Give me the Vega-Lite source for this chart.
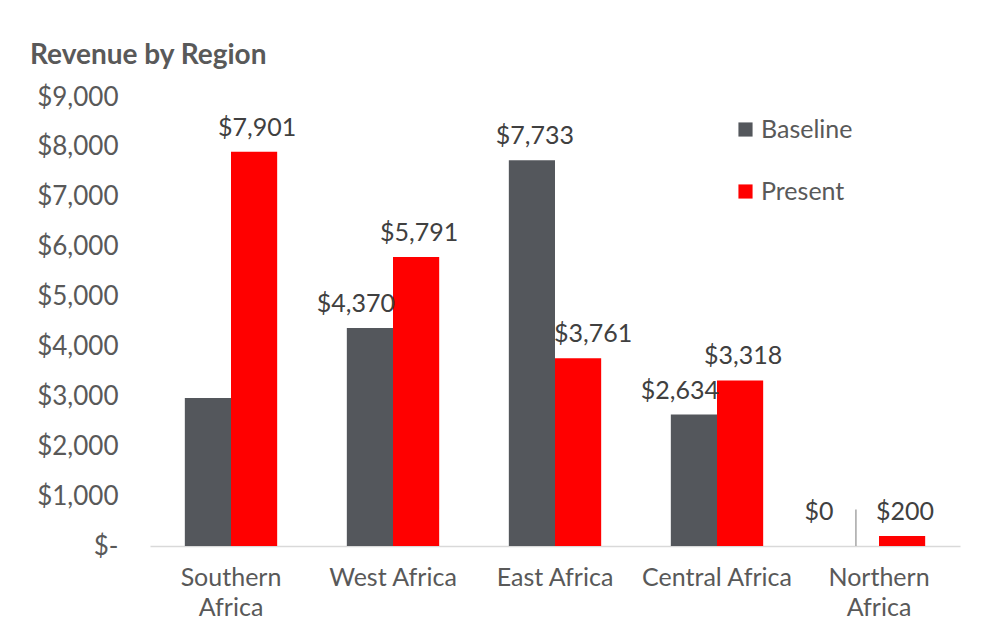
{
  "$schema": "https://vega.github.io/schema/vega-lite/v6.json",
  "autosize": {"type": "none"},
  "padding": {"left": 150, "top": 97, "right": 24, "bottom": 85},
  "width": 810,
  "height": 449,
  "background": "white",
  "config": {
    "font": "Lato",
    "view": {"stroke": null}
  },
  "title": {
    "text": "Revenue by Region",
    "anchor": "start",
    "frame": "group",
    "dx": -120,
    "fontSize": 28,
    "fontWeight": "bold",
    "color": "#595959",
    "offset": 14
  },
  "data": {
    "values": [
      {"Region": "Southern Africa", "Series": "Baseline", "Revenue": 2966, "Label": ""},
      {"Region": "Southern Africa", "Series": "Present", "Revenue": 7901, "Label": "$7,901"},
      {"Region": "West Africa", "Series": "Baseline", "Revenue": 4370, "Label": "$4,370"},
      {"Region": "West Africa", "Series": "Present", "Revenue": 5791, "Label": "$5,791"},
      {"Region": "East Africa", "Series": "Baseline", "Revenue": 7733, "Label": "$7,733"},
      {"Region": "East Africa", "Series": "Present", "Revenue": 3761, "Label": "$3,761"},
      {"Region": "Central Africa", "Series": "Baseline", "Revenue": 2634, "Label": "$2,634"},
      {"Region": "Central Africa", "Series": "Present", "Revenue": 3318, "Label": "$3,318"},
      {"Region": "Northern Africa", "Series": "Baseline", "Revenue": 0, "Label": "$0"},
      {"Region": "Northern Africa", "Series": "Present", "Revenue": 200, "Label": "$200"}
    ]
  },
  "encoding": {
    "x": {
      "field": "Region",
      "type": "nominal",
      "sort": null,
      "scale": {"paddingInner": 0.43, "paddingOuter": 0.215},
      "axis": {
        "title": null,
        "labelAngle": 0,
        "ticks": false,
        "domainColor": "#D9D9D9",
        "domainWidth": 1.5,
        "labelFontSize": 25,
        "labelColor": "#595959",
        "labelPadding": 19,
        "labelLineHeight": 30,
        "labelExpr": "datum.label == 'Southern Africa' ? ['Southern', 'Africa'] : datum.label == 'Northern Africa' ? ['Northern', 'Africa'] : datum.label"
      }
    },
    "xOffset": {"field": "Series", "type": "nominal", "sort": ["Baseline", "Present"]}
  },
  "layer": [
    {
      "mark": {"type": "bar"},
      "encoding": {
        "y": {
          "field": "Revenue",
          "type": "quantitative",
          "scale": {"domain": [0, 9000], "nice": false},
          "axis": {
            "title": null,
            "values": [0, 1000, 2000, 3000, 4000, 5000, 6000, 7000, 8000, 9000],
            "grid": false,
            "ticks": false,
            "domain": false,
            "labelFontSize": 26,
            "labelColor": "#595959",
            "labelPadding": 32,
            "labelExpr": "datum.value == 0 ? '$-   ' : '$' + format(datum.value, ',')"
          }
        },
        "color": {
          "field": "Series",
          "type": "nominal",
          "sort": ["Baseline", "Present"],
          "scale": {"domain": ["Baseline", "Present"], "range": ["#54575C", "#FF0000"]},
          "legend": {
            "title": null,
            "orient": "none",
            "legendX": 583,
            "legendY": 20,
            "symbolType": "square",
            "symbolSize": 200,
            "symbolStrokeWidth": 0,
            "labelFontSize": 25,
            "labelColor": "#595959",
            "rowPadding": 36,
            "labelOffset": 3
          }
        }
      }
    },
    {
      "transform": [{"filter": "datum.Revenue > 0 && datum.Label != '$4,370' && datum.Label != '$2,634' && datum.Label != '$3,761'"}],
      "mark": {"type": "text", "baseline": "bottom", "dy": -11, "dx": 3, "fontSize": 25, "color": "#404040"},
      "encoding": {
        "y": {"field": "Revenue", "type": "quantitative"},
        "text": {"field": "Label"}
      }
    },
    {
      "transform": [{"filter": "datum.Label == '$4,370' || datum.Label == '$2,634'"}],
      "mark": {"type": "text", "baseline": "bottom", "dy": -11, "dx": -14, "fontSize": 25, "color": "#404040"},
      "encoding": {
        "y": {"field": "Revenue", "type": "quantitative"},
        "text": {"field": "Label"}
      }
    },
    {
      "transform": [{"filter": "datum.Label == '$3,761'"}],
      "mark": {"type": "text", "baseline": "bottom", "dy": -11, "dx": 15, "fontSize": 25, "color": "#404040"},
      "encoding": {
        "y": {"field": "Revenue", "type": "quantitative"},
        "text": {"field": "Label"}
      }
    },
    {
      "transform": [{"filter": "datum.Revenue == 0"}],
      "mark": {"type": "text", "baseline": "bottom", "dy": -21, "dx": -37, "fontSize": 25, "color": "#404040"},
      "encoding": {
        "y": {"field": "Revenue", "type": "quantitative"},
        "text": {"field": "Label"}
      }
    },
    {
      "transform": [{"filter": "datum.Revenue == 0"}],
      "mark": {"type": "rule", "color": "#A6A6A6", "strokeWidth": 1.5},
      "encoding": {
        "y": {"datum": 0, "type": "quantitative"},
        "y2": {"datum": 730}
      }
    }
  ]
}
